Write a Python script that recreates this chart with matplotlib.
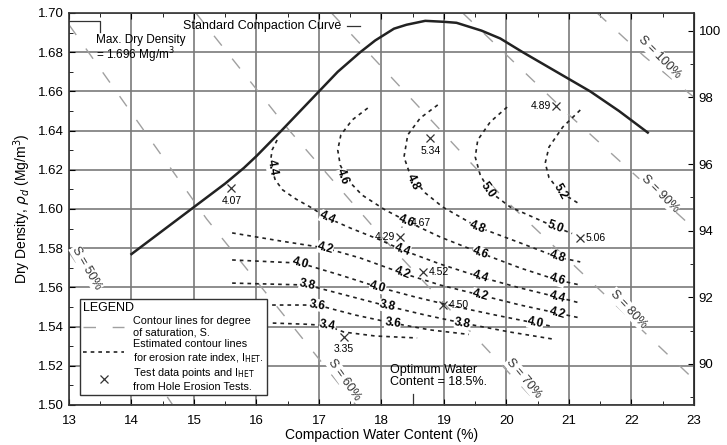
import matplotlib.pyplot as plt
from matplotlib.lines import Line2D
from matplotlib.ticker import MultipleLocator, FixedLocator, FormatStrFormatter

plt.rcParams['font.family'] = ['Liberation Sans', 'DejaVu Sans']

# standard compaction curve (water content %, dry density Mg/m3)
curve_w = [14.0, 14.5, 15.0, 15.5, 15.8, 16.0, 16.4, 17.0, 17.3, 17.66, 17.9, 18.2,
           18.4, 18.7, 19.0, 19.2, 19.6, 19.9, 20.26, 20.8, 21.34, 21.8, 22.26]
curve_rho = [1.577, 1.589, 1.601, 1.613, 1.621, 1.627, 1.640, 1.660, 1.670, 1.680, 1.686, 1.692,
             1.694, 1.696, 1.6955, 1.695, 1.691, 1.687, 1.680, 1.670, 1.660, 1.650, 1.639]

# degree of saturation lines
sat_lines = {
    '100': ([21.45, 22.2, 23.0], [1.700, 1.678, 1.657]),
    '90': ([19.3, 21.0, 23.0], [1.700, 1.648, 1.590]),
    '80': ([17.2, 20.0, 23.0], [1.700, 1.604, 1.513]),
    '70': ([15.03, 16.5, 18.0, 20.52], [1.700, 1.641, 1.586, 1.500]),
    '60': ([13.0, 15.2, 17.59], [1.694, 1.595, 1.500]),
    '50': ([13.0, 14.66], [1.578, 1.500]),
}
sat_labels = [(22.45, 1.6775, 'S = 100%', -45), (22.45, 1.608, 'S = 90%', -45),
              (21.95, 1.549, 'S = 80%', -47), (20.28, 1.5135, 'S = 70%', -50),
              (17.4, 1.513, 'S = 60%', -55), (13.28, 1.570, 'S = 50%', -60)]

# estimated contour lines for erosion rate index
contours = [
    ([16.33, 16.25, 16.22, 16.30, 16.42, 16.63, 16.86, 17.14, 17.50, 17.98, 18.33, 18.94, 19.58, 20.22, 20.81, 21.18],
     [1.6352, 1.6301, 1.6235, 1.6148, 1.6097, 1.6051, 1.6010, 1.5954, 1.5903, 1.5842, 1.5791, 1.5719, 1.5653, 1.5597, 1.5551, 1.5520]),
    ([17.78, 17.53, 17.35, 17.30, 17.34, 17.46, 17.69, 18.06, 18.46, 18.94, 19.58, 20.22, 20.81, 21.18],
     [1.6515, 1.6454, 1.6378, 1.6301, 1.6224, 1.6148, 1.6071, 1.5995, 1.5929, 1.5857, 1.5776, 1.5699, 1.5638, 1.5612]),
    ([18.90, 18.62, 18.42, 18.36, 18.46, 18.70, 18.98, 19.26, 19.54, 20.22, 20.81, 21.18],
     [1.6531, 1.6464, 1.6378, 1.6265, 1.6173, 1.6082, 1.6010, 1.5959, 1.5908, 1.5827, 1.5755, 1.5730]),
    ([20.01, 19.74, 19.54, 19.50, 19.58, 19.74, 20.06, 20.42, 20.78, 21.05],
     [1.6520, 1.6444, 1.6352, 1.6265, 1.6173, 1.6087, 1.6010, 1.5959, 1.5908, 1.5875]),
    ([21.18, 20.90, 20.68, 20.62, 20.68, 20.86, 21.14],
     [1.6505, 1.6418, 1.6316, 1.6235, 1.6160, 1.6087, 1.6031]),
    ([15.61, 16.38, 17.10, 17.66, 18.33, 18.94, 19.58, 20.22, 20.81, 21.18],
     [1.5878, 1.5837, 1.5801, 1.5750, 1.5673, 1.5612, 1.5561, 1.5510, 1.5469, 1.5444]),
    ([15.61, 16.70, 17.34, 17.94, 18.54, 19.14, 19.82, 20.46, 20.75],
     [1.5740, 1.5724, 1.5663, 1.5602, 1.5551, 1.5505, 1.5459, 1.5418, 1.5400]),
    ([15.61, 16.81, 17.42, 18.09, 18.70, 19.30, 20.06, 20.73],
     [1.5622, 1.5612, 1.5561, 1.5505, 1.5459, 1.5418, 1.5372, 1.5337]),
    ([16.25, 16.97, 17.58, 18.18, 18.78, 19.40],
     [1.5510, 1.5510, 1.5459, 1.5418, 1.5383, 1.5360]),
    ([16.26, 16.80, 17.13, 17.40, 17.90, 18.57],
     [1.5418, 1.5412, 1.5405, 1.5372, 1.5352, 1.5342]),
]
contour_labels = [
    (16.25, 1.621, '4.4', -80), (17.14, 1.5954, '4.4', -25), (18.33, 1.5791, '4.4', -20),
    (19.58, 1.5653, '4.4', -18), (20.81, 1.5551, '4.4', -15),
    (17.38, 1.6163, '4.6', -70), (18.40, 1.5935, '4.6', -22), (19.58, 1.5776, '4.6', -20),
    (20.81, 1.5638, '4.6', -17),
    (18.50, 1.6138, '4.8', -65), (19.54, 1.5908, '4.8', -22), (20.81, 1.5755, '4.8', -18),
    (19.70, 1.6097, '5.0', -55), (20.78, 1.5908, '5.0', -20),
    (20.86, 1.6087, '5.2', -60),
    (17.10, 1.5801, '4.2', -15), (18.33, 1.5673, '4.2', -20), (19.58, 1.5561, '4.2', -15),
    (20.81, 1.5469, '4.2', -15),
    (16.70, 1.5724, '4.0', -15), (17.94, 1.5602, '4.0', -15), (20.46, 1.5418, '4.0', -12),
    (16.81, 1.5612, '3.8', -12), (18.09, 1.5505, '3.8', -12), (19.30, 1.5418, '3.8', -10),
    (16.97, 1.5510, '3.6', -10), (18.18, 1.5418, '3.6', -8),
    (17.14, 1.5408, '3.4', -10),
]

# hole erosion test points
test_w = [15.6, 18.78, 20.8, 18.38, 18.3, 18.66, 18.98, 17.4, 21.18]
test_rho = [1.6107, 1.6362, 1.6526, 1.5930, 1.5857, 1.5679, 1.5510, 1.5347, 1.5852]
test_val = ['4.07', '5.34', '4.89', '4.67', '4.29', '4.52', '4.50', '3.35', '5.06']
test_pos = ['below', 'below', 'left', 'right', 'left', 'right', 'right', 'below', 'right']

# right axis: relative compaction (%) as printed on the chart
rc_ticks = [90, 92, 94, 96, 98, 100]
rc_minor = [89, 91, 93, 95, 97, 99]
rc_ref, rho_ref, rho_per_pct = 100.0, 1.6909, 0.01699

fig = plt.figure(figsize=(7.27, 4.45), dpi=100)
ax = fig.add_axes([0.0949, 0.0899, 0.8597, 0.8809])
ax.set_xlim(13, 23)
ax.set_ylim(1.50, 1.70)

ax.grid(True, which='major', color='#7a7a7a', lw=1.2)
ax.set_axisbelow(True)

for key, (w, r) in sat_lines.items():
    ax.plot(w, r, color='#a0a0a0', lw=1.0, dashes=(9, 12))
for x, y, t, rot in sat_labels:
    ax.text(x, y, t, rotation=rot, fontsize=9, color='#333333', ha='center', va='center',
            bbox=dict(fc='white', ec='none', pad=0.5))

for w, r in contours:
    ax.plot(w, r, color='#222222', lw=1.2, dashes=(2.2, 2.4))
for x, y, t, rot in contour_labels:
    ax.text(x, y, t, rotation=rot, fontsize=8.5, fontweight='bold', ha='center', va='center',
            bbox=dict(fc='white', ec='none', pad=0.1))

ax.plot(curve_w, curve_rho, color='#222222', lw=1.8)

ax.plot(test_w, test_rho, ls='none', marker='x', ms=6, mew=0.9, color='#333333')
for w, r, v, p in zip(test_w, test_rho, test_val, test_pos):
    if p == 'below':
        ax.annotate(v, (w, r), xytext=(0, -9), textcoords='offset points', ha='center', fontsize=7.5, va='center')
    elif p == 'left':
        ax.annotate(v, (w, r), xytext=(-4, 0), textcoords='offset points', ha='right', fontsize=7.5, va='center')
    else:
        ax.annotate(v, (w, r), xytext=(4, 0), textcoords='offset points', ha='left', fontsize=7.5, va='center')

# max dry density marker
ax.plot([13.0, 13.5, 13.5], [1.696, 1.696, 1.6905], color='#333333', lw=0.9)
ax.text(13.43, 1.6895, 'Max. Dry Density\n= 1.696 Mg/m$^3$', fontsize=8.5, va='top', linespacing=1.0)
ax.text(14.82, 1.6935, 'Standard Compaction Curve', fontsize=9, va='center')
ax.plot([17.45, 17.65], [1.6935, 1.6935], color='#333333', lw=0.9)

# optimum water content
ax.plot([18.5, 18.5], [1.500, 1.5055], color='#333333', lw=0.9)
ax.text(18.13, 1.5148, 'Optimum Water\nContent = 18.5%.', fontsize=9, va='center', linespacing=1.05)

ax.xaxis.set_major_locator(MultipleLocator(1))
ax.xaxis.set_minor_locator(MultipleLocator(0.5))
ax.yaxis.set_major_locator(MultipleLocator(0.02))
ax.yaxis.set_minor_locator(MultipleLocator(0.01))
ax.yaxis.set_major_formatter(FormatStrFormatter('%.2f'))
ax.tick_params(which='both', direction='in', top=True, right=False, labelsize=9.5)
ax.tick_params(axis='x', pad=7)
ax.tick_params(which='major', length=4)
ax.tick_params(which='minor', length=3)
for s in ax.spines.values():
    s.set_linewidth(1.2)
    s.set_color('#333333')

ax2 = ax.secondary_yaxis('right', functions=(lambda y: rc_ref + (y - rho_ref) / rho_per_pct,
                                             lambda r: rho_ref + (r - rc_ref) * rho_per_pct))
ax2.yaxis.set_major_locator(FixedLocator(rc_ticks))
ax2.yaxis.set_minor_locator(FixedLocator(rc_minor))
ax2.tick_params(which='both', direction='in', labelsize=9.5)
ax2.tick_params(which='major', length=4)
ax2.tick_params(which='minor', length=3)

ax.set_xlabel('Compaction Water Content (%)', fontsize=10, labelpad=1)
ax.set_ylabel(r'Dry Density, $\rho_d$ (Mg/m$^3$)', fontsize=10, labelpad=4)

handles = [Line2D([], [], color='#a0a0a0', lw=1.0, dashes=(9, 12)),
           Line2D([], [], color='#222222', lw=1.2, dashes=(2.2, 2.4)),
           Line2D([], [], ls='none', marker='x', ms=6, mew=0.9, color='#333333')]
labels = ['Contour lines for degree\nof saturation, S.',
          'Estimated contour lines\nfor erosion rate index, I$_{\\mathrm{HET}}$.',
          'Test data points and I$_{\\mathrm{HET}}$\nfrom Hole Erosion Tests.']
leg = ax.legend(handles, labels, title='LEGEND', loc='lower left', bbox_to_anchor=(0.0176, 0.0255),
                borderaxespad=0, fontsize=7.8, title_fontsize=9, alignment='left', handlelength=3.8,
                labelspacing=0.15, fancybox=False, framealpha=1, edgecolor='#333333',
                borderpad=0.3, handletextpad=0.8)
leg.get_frame().set_linewidth(1.0)

fig.savefig('out.png', dpi=100)
